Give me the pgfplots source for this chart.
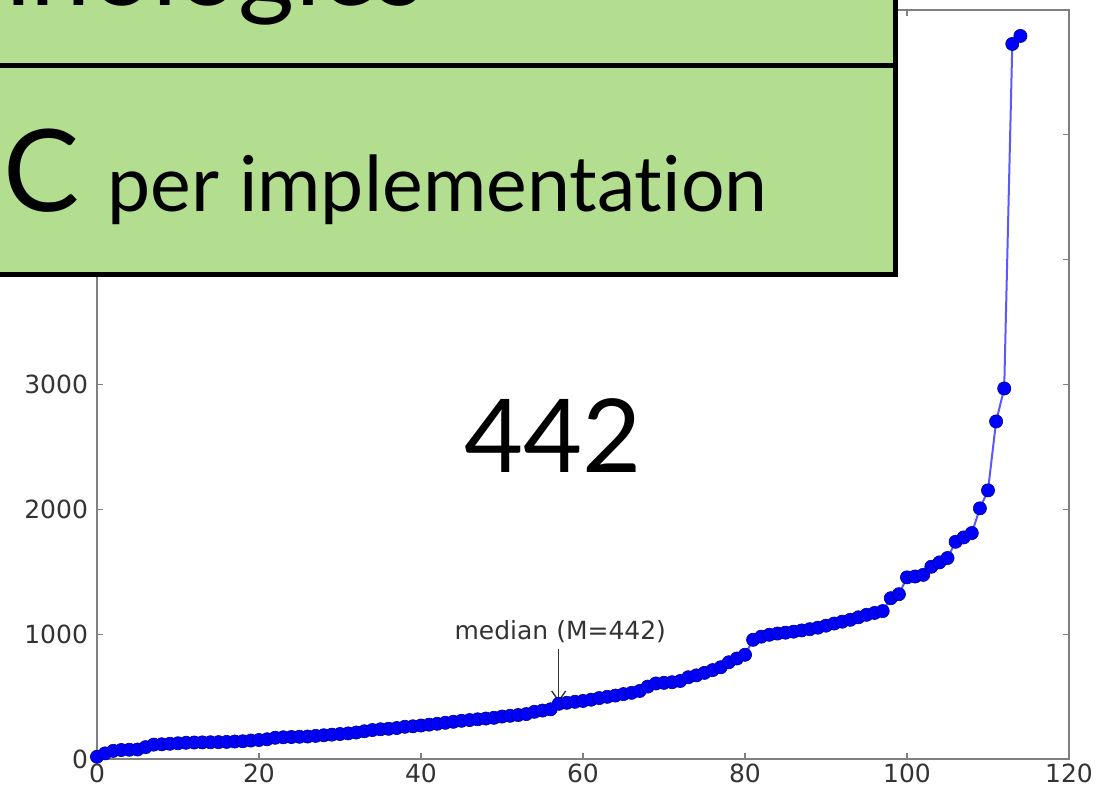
\documentclass[border=0pt]{standalone}
\usepackage{fontspec}
\usepackage{pgfplots}
\pgfplotsset{compat=1.18}
\usetikzlibrary{arrows.meta}
\setmainfont[Ligatures=NoCommon]{Lato}
\newfontfamily\tickfont{DejaVu Sans}
\definecolor{boxgreen}{HTML}{B3DE90}
\definecolor{framegray}{HTML}{808080}
\definecolor{labgray}{HTML}{333333}
\begin{document}
\begin{tikzpicture}
\useasboundingbox (0,0) rectangle (552pt,393.5pt);
\clip (0,0) rectangle (552pt,393.5pt);
\begin{axis}[
  at={(48.5pt,14pt)}, anchor=south west,
  scale only axis, width=486pt, height=374.5pt,
  xmin=0, xmax=120, ymin=0, ymax=6000,
  xtick={0,20,...,120}, ytick={0,1000,...,6000},
  tick pos=both, tick align=inside,
  major tick length=3pt,
  axis line style={framegray, line width=1.4pt},
  every tick/.style={framegray, line width=0.6pt},
  /pgf/number format/assume math mode=true,
  /pgf/number format/1000 sep={},
  tick label style={font=\tickfont\fontsize{12.5}{14}\selectfont, text=labgray},
  xticklabel style={yshift=1pt},
  yticklabel style={xshift=-1pt},
  clip=false,
]
\addplot[color=blue!65!white, line width=1pt, mark=*, mark size=3.3pt,
  mark options={fill=blue, draw=blue!55!black, line width=0.3pt}] table {
x y
0 18
1 45
2 65
3 72
4 74
5 76
6 95
7 115
8 118
9 122
10 126
11 130
12 132
13 133
14 134
15 135
16 137
17 140
18 142
19 148
20 152
21 158
22 170
23 174
24 176
25 178
26 180
27 185
28 190
29 195
30 200
31 205
32 212
33 222
34 232
35 238
36 242
37 248
38 258
39 262
40 268
41 275
42 282
43 290
44 298
45 306
46 312
47 318
48 324
49 330
50 340
51 346
52 352
53 360
54 378
55 388
56 398
57 442
58 450
59 458
60 465
61 475
62 488
63 498
64 508
65 520
66 530
67 545
68 580
69 605
70 610
71 615
72 625
73 655
74 670
75 690
76 712
77 735
78 775
79 805
80 835
81 955
82 980
83 995
84 1005
85 1012
86 1020
87 1030
88 1040
89 1052
90 1068
91 1085
92 1100
93 1115
94 1135
95 1155
96 1170
97 1185
98 1288
99 1320
100 1455
101 1462
102 1475
103 1540
104 1575
105 1610
106 1740
107 1775
108 1810
109 2008
110 2152
111 2704
112 2968
113 5728
114 5792
};
\node[font=\tickfont\fontsize{12.5}{14}\selectfont, text=labgray, anchor=center] at (axis cs:57.2,1024) {median (M=442)};
\draw[-{Straight Barb[length=5pt,width=7pt]}, labgray, line width=0.7pt] (axis cs:57,880) -- (axis cs:57,455);
\node[font=\fontsize{51}{56}\selectfont, anchor=base, inner sep=0pt] at (axis cs:56.3,2296) {442};
\end{axis}
% green title boxes
\fill[boxgreen] (-5pt,256.25pt) rectangle (447.75pt,400pt);
\draw[black, line width=2.5pt] (-5pt,256.25pt) -- (447.75pt,256.25pt) -- (447.75pt,400pt);
\draw[black, line width=2.5pt] (-5pt,360.75pt) -- (447.75pt,360.75pt);
\node[anchor=base east, inner sep=0pt, font=\fontsize{54}{60}\selectfont] at (212.5pt,390.5pt) {Technologies};
\node[anchor=base west, inner sep=0pt] at (1.5pt,287.5pt) {{\fontsize{57}{62}\selectfont C}\hspace{14pt}{\fontsize{38.5}{44}\selectfont per implementation}};
\end{tikzpicture}
\end{document}
